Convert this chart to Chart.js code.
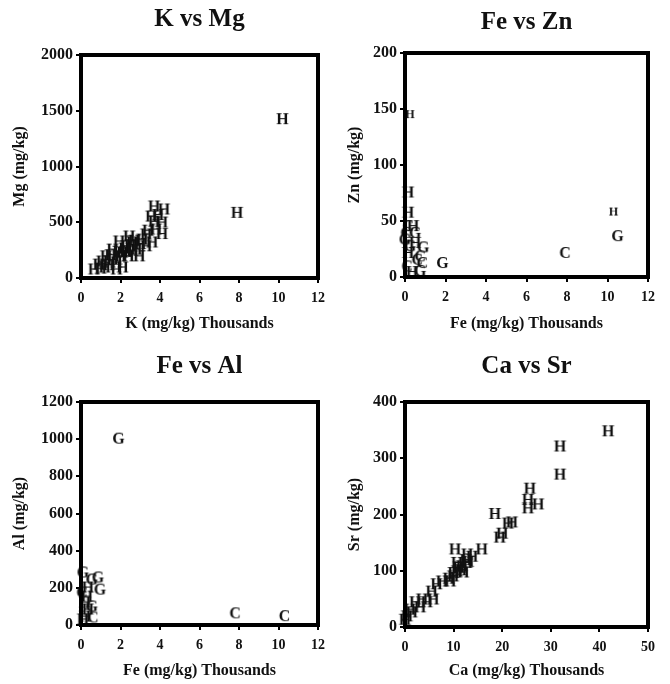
<!DOCTYPE html>
<html>
<head>
<meta charset="utf-8">
<script src="https://cdn.jsdelivr.net/npm/chart.js@4.4.1/dist/chart.umd.min.js"></script>
<style>
  body { margin: 0; background: #fff; }
  #wrap { position: relative; width: 670px; height: 684px; }
  canvas { position: absolute; }
</style>
</head>
<body>
<div id="wrap">
  <canvas id="c1" width="335" height="342" style="left:0;top:0"></canvas>
  <canvas id="c2" width="335" height="342" style="left:335px;top:0"></canvas>
  <canvas id="c3" width="335" height="342" style="left:0;top:342px"></canvas>
  <canvas id="c4" width="335" height="342" style="left:335px;top:342px"></canvas>
</div>
<script>
// --- data (x in thousands of mg/kg, y in mg/kg) ---

// K vs Mg
var kmgH = [
  {x: 10.2, y: 1420}, {x: 7.9, y: 580},
  {x: 3.7, y: 637}, {x: 4.2, y: 610}, {x: 3.56, y: 547}, {x: 4.1, y: 493},
  {x: 4.1, y: 390}, {x: 3.8, y: 430}, {x: 3.3, y: 386}, {x: 3.1, y: 340},
  {x: 2.44, y: 368}, {x: 1.93, y: 323}, {x: 1.6, y: 250}, {x: 1.27, y: 190},
  {x: 0.9, y: 116}, {x: 0.66, y: 72}, {x: 2.1, y: 90}, {x: 1.8, y: 134},
  {x: 2.4, y: 190}, {x: 2.8, y: 250}, {x: 3.3, y: 280}, {x: 3.6, y: 314},
  {x: 2.3, y: 280}, {x: 2.6, y: 314}, {x: 1.6, y: 160}, {x: 1.07, y: 143},
  {x: 2.1, y: 224}, {x: 2.95, y: 190}, {x: 1.8, y: 72},
  {x: 1.5, y: 200}, {x: 1.9, y: 230}, {x: 2.2, y: 260}, {x: 2.5, y: 290},
  {x: 2.0, y: 190}, {x: 2.7, y: 330}, {x: 3.0, y: 300}, {x: 1.4, y: 110},
  {x: 1.2, y: 90}, {x: 2.3, y: 230}, {x: 2.6, y: 240}, {x: 1.0, y: 80},
  {x: 3.4, y: 420}, {x: 3.7, y: 500}, {x: 3.9, y: 560}
]
var kmgG = []
var kmgC = []

// Fe vs Zn
var feznHsmall = [{x: 10.3, y: 58}, {x: 0.25, y: 145}]
var feznH = [{x: 0.15, y: 75}, {x: 0.15, y: 57},
  {x: 0.4, y: 45}, {x: 0.5, y: 30}, {x: 0.15, y: 21}, {x: 0.35, y: 4}]
var feznG = [{x: 10.5, y: 36}, {x: 1.85, y: 12}, {x: 0.5, y: 39}, {x: 0.9, y: 26},
  {x: 0.0, y: 33}, {x: 0.25, y: 27}, {x: 0.75, y: 5}]
var feznC = [{x: 7.9, y: 21}, {x: 0.85, y: 12}, {x: 0.75, y: 18}, {x: 0.1, y: 9},
  {x: 0.15, y: 45}, {x: 0.05, y: 39}, {x: 0.6, y: 15}]

// Fe vs Al
var sealH = [{x: 0.35, y: 199}, {x: 0.3, y: 150}, {x: 0.2, y: 118}, {x: 0.35, y: 81},
  {x: 0.2, y: 43}, {x: 0.1, y: 27}]
var sealG = [{x: 1.9, y: 1000}, {x: 0.86, y: 253}, {x: 0.55, y: 242}, {x: 0.96, y: 188},
  {x: 0.1, y: 280}, {x: 0.55, y: 97}]
var sealC = [{x: 7.8, y: 60}, {x: 10.3, y: 45}, {x: 0.05, y: 172}, {x: 0.6, y: 38}]

// Ca vs Sr
var casrH = [
  {x: 41.8, y: 347}, {x: 31.9, y: 320}, {x: 31.9, y: 270}, {x: 25.7, y: 245},
  {x: 25.3, y: 225}, {x: 25.3, y: 210}, {x: 27.4, y: 217}, {x: 18.5, y: 200},
  {x: 21.2, y: 183}, {x: 22, y: 185}, {x: 19.5, y: 158}, {x: 20, y: 165},
  {x: 10.3, y: 137}, {x: 15.8, y: 137}, {x: 12.8, y: 128},
  {x: 13.8, y: 124}, {x: 12.7, y: 113}, {x: 11.7, y: 107}, {x: 10.7, y: 98},
  {x: 9.9, y: 89}, {x: 9.3, y: 80}, {x: 12, y: 96}, {x: 7.6, y: 80},
  {x: 6.5, y: 75}, {x: 5.5, y: 62}, {x: 5.8, y: 48}, {x: 4.5, y: 43},
  {x: 3.1, y: 34}, {x: 2.1, y: 43}, {x: 1.0, y: 30}, {x: 0.4, y: 18},
  {x: 0.0, y: 12}, {x: 1.4, y: 25}, {x: 3.5, y: 48}, {x: 10.7, y: 113},
  {x: 11, y: 105}, {x: 12.5, y: 118}, {x: 10, y: 95}, {x: 9, y: 85},
  {x: 13, y: 115}, {x: 11.5, y: 100}
]

// axis setup
var titles = ['K vs Mg', 'Fe vs Zn', 'Fe vs Al', 'Ca vs Sr']
var xTitles = ['K (mg/kg) Thousands', 'Fe (mg/kg) Thousands', 'Fe (mg/kg) Thousands', 'Ca (mg/kg) Thousands']
var yTitles = ['Mg (mg/kg)', 'Zn (mg/kg)', 'Al (mg/kg)', 'Sr (mg/kg)']
var xMax = [12, 12, 12, 50]
var xStep = [2, 2, 2, 10]
var yMax = [2000, 200, 1200, 400]
var yStep = [500, 50, 200, 100]

var serif = '"Liberation Serif", "Times New Roman", serif'

// draws a letter into a small canvas, used as the point marker
function letter(ch, size) {
  var c = document.createElement('canvas')
  c.width = Math.ceil(size * 0.9)
  c.height = Math.ceil(size * 0.9)
  var g = c.getContext('2d')
  g.fillStyle = '#111'
  g.font = 'bold ' + size + 'px ' + serif
  g.textAlign = 'center'
  g.textBaseline = 'middle'
  g.fillText(ch, c.width / 2, c.height / 2 + size * 0.05)
  return c
}

// thick frame round the plot area
var frame = {
  id: 'frame',
  afterDatasetsDraw(chart) {
    var a = chart.chartArea
    var ctx = chart.ctx
    ctx.save()
    ctx.strokeStyle = '#000'
    ctx.lineWidth = 4
    ctx.strokeRect(a.left, a.top, a.right - a.left, a.bottom - a.top)
    ctx.restore()
  }
}

// where each panel's plot box sits inside its own canvas
var boxes = [
  {yw: 81, pr: 17, tTop: 5, tBot: 20, xh: 64, xtPad: 9},
  {yw: 70, pr: 22, tTop: 8, tBot: 15, xh: 65, xtPad: 9},
  {yw: 81, pr: 17, tTop: 10, tBot: 20, xh: 59, xtPad: 4},
  {yw: 70, pr: 22, tTop: 10, tBot: 20, xh: 57, xtPad: 4}
]

function makeChart(i, sets) {
  var b = boxes[i]
  var datasets = sets.map(function (s) {
    return { label: s.name, data: s.data, pointStyle: letter(s.name, s.size || 16), clip: 8 }
  })
  new Chart(document.getElementById('c' + (i + 1)), {
    type: 'scatter',
    data: { datasets: datasets },
    options: {
      responsive: false,
      animation: false,
      layout: { padding: { left: 0, right: b.pr, top: 0, bottom: 0 } },
      plugins: {
        legend: { display: false },
        tooltip: { enabled: false },
        title: {
          display: true, text: titles[i], color: '#111', fullSize: false,
          font: { family: serif, size: 25, weight: 'bold', lineHeight: 1.2 },
          padding: { top: b.tTop, bottom: b.tBot }
        }
      },
      scales: {
        x: {
          min: 0, max: xMax[i],
          afterFit: function (s) { s.height = b.xh },
          border: { display: false },
          grid: { drawOnChartArea: false, color: '#000', lineWidth: 2, tickLength: 5 },
          ticks: { stepSize: xStep[i], color: '#111', padding: 7, maxRotation: 0,
            font: { family: serif, size: 14, weight: 'bold' },
            callback: function (v) { return String(v) } },
          title: { display: true, text: xTitles[i], color: '#111',
            font: { family: serif, size: 16, weight: 'bold', lineHeight: 1.2 },
            padding: { top: 0, bottom: b.xtPad } }
        },
        y: {
          min: 0, max: yMax[i],
          afterFit: function (s) { s.width = b.yw },
          border: { display: false },
          grid: { drawOnChartArea: false, color: '#000', lineWidth: 2, tickLength: 5 },
          ticks: { stepSize: yStep[i], color: '#111', padding: 3,
            font: { family: serif, size: 16, weight: 'bold' },
            callback: function (v) { return String(v) } },
          title: { display: true, text: yTitles[i], color: '#111',
            font: { family: serif, size: 16, weight: 'bold', lineHeight: 1.2 },
            padding: { top: 10, bottom: 0 } }
        }
      }
    },
    plugins: [frame]
  })
}

makeChart(0, [{name: 'H', data: kmgH}, {name: 'G', data: kmgG}, {name: 'C', data: kmgC}])
makeChart(1, [{name: 'H', data: feznHsmall, size: 12}, {name: 'H', data: feznH},
  {name: 'G', data: feznG}, {name: 'C', data: feznC}])
makeChart(2, [{name: 'H', data: sealH}, {name: 'G', data: sealG}, {name: 'C', data: sealC}])
makeChart(3, [{name: 'H', data: casrH}])
</script>
</body>
</html>
